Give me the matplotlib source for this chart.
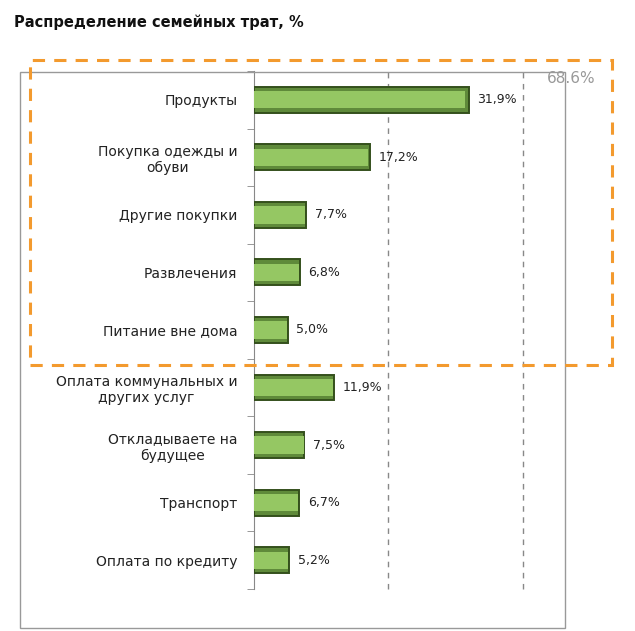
import matplotlib.pyplot as plt
from matplotlib.patches import Rectangle
import numpy as np

categories = ["Продукты", "Покупка одежды и\nобуви", "Другие покупки", "Развлечения",
              "Питание вне дома", "Оплата коммунальных и\nдругих услуг",
              "Откладываете на\nбудущее", "Транспорт", "Оплата по кредиту"]
values = [31.9, 17.2, 7.7, 6.8, 5.0, 11.9, 7.5, 6.7, 5.2]
labels = ["31,9%", "17,2%", "7,7%", "6,8%", "5,0%", "11,9%", "7,5%", "6,7%", "5,2%"]
group_total = "68.6%"
grid_at = [20, 40]

plt.rcParams['font.family'] = ['DejaVu Sans']

fig = plt.figure(figsize=(6.35, 6.31), dpi=100)
ax = fig.add_axes([0.4, 0.0666, 0.4236, 0.8209])

y = np.arange(len(categories))
# bevelled look: dark outer bar, light inner face
ax.barh(y, values, height=0.45, color='#5f8a3a', edgecolor='#34501c', linewidth=1.4, zorder=3)
ax.barh(y, np.array(values) * 0.985, height=0.3, color='#95c763', linewidth=0, zorder=4)

for yi, v, lab in zip(y, values, labels):
    ax.text(v + 1.3, yi, lab, va='center', ha='left', fontsize=9, color='#222222')

ax.set_xlim(0, 40)
ax.set_ylim(len(categories) - 0.5, -0.5)
ax.set_xticks([])
for g in grid_at:
    ax.axvline(g, linestyle=(0, (4, 4)), color='#888888', linewidth=1, zorder=0, clip_on=False)

ax.set_yticks(y)
ax.set_yticklabels(categories, fontsize=10, color='#222222', multialignment='center')
ax.tick_params(axis='y', length=0, pad=12)
ax.set_yticks(np.arange(len(categories) + 1) - 0.5, minor=True)
ax.tick_params(axis='y', which='minor', length=5, color='#888888')

for s in ['top', 'right', 'bottom']:
    ax.spines[s].set_visible(False)
ax.spines['left'].set_color('#888888')

# chart frame
fig.patches.append(Rectangle((0.0315, 0.0048), 0.858, 0.881, transform=fig.transFigure,
                             fill=False, edgecolor='#999999', linewidth=1))
# highlighted group
fig.patches.append(Rectangle((0.047, 0.4216), 0.917, 0.4834, transform=fig.transFigure,
                             fill=False, edgecolor='#f39a2e', linewidth=2.2,
                             linestyle=(0, (4, 3)), zorder=5))
fig.text(0.899, 0.876, group_total, fontsize=11, color='#999999', ha='center', va='center')

fig.text(0.022, 0.965, "Распределение семейных трат, %", fontsize=10.5, fontweight='bold',
         ha='left', va='center', color='#111111')

fig.savefig('out.png', dpi=100)
